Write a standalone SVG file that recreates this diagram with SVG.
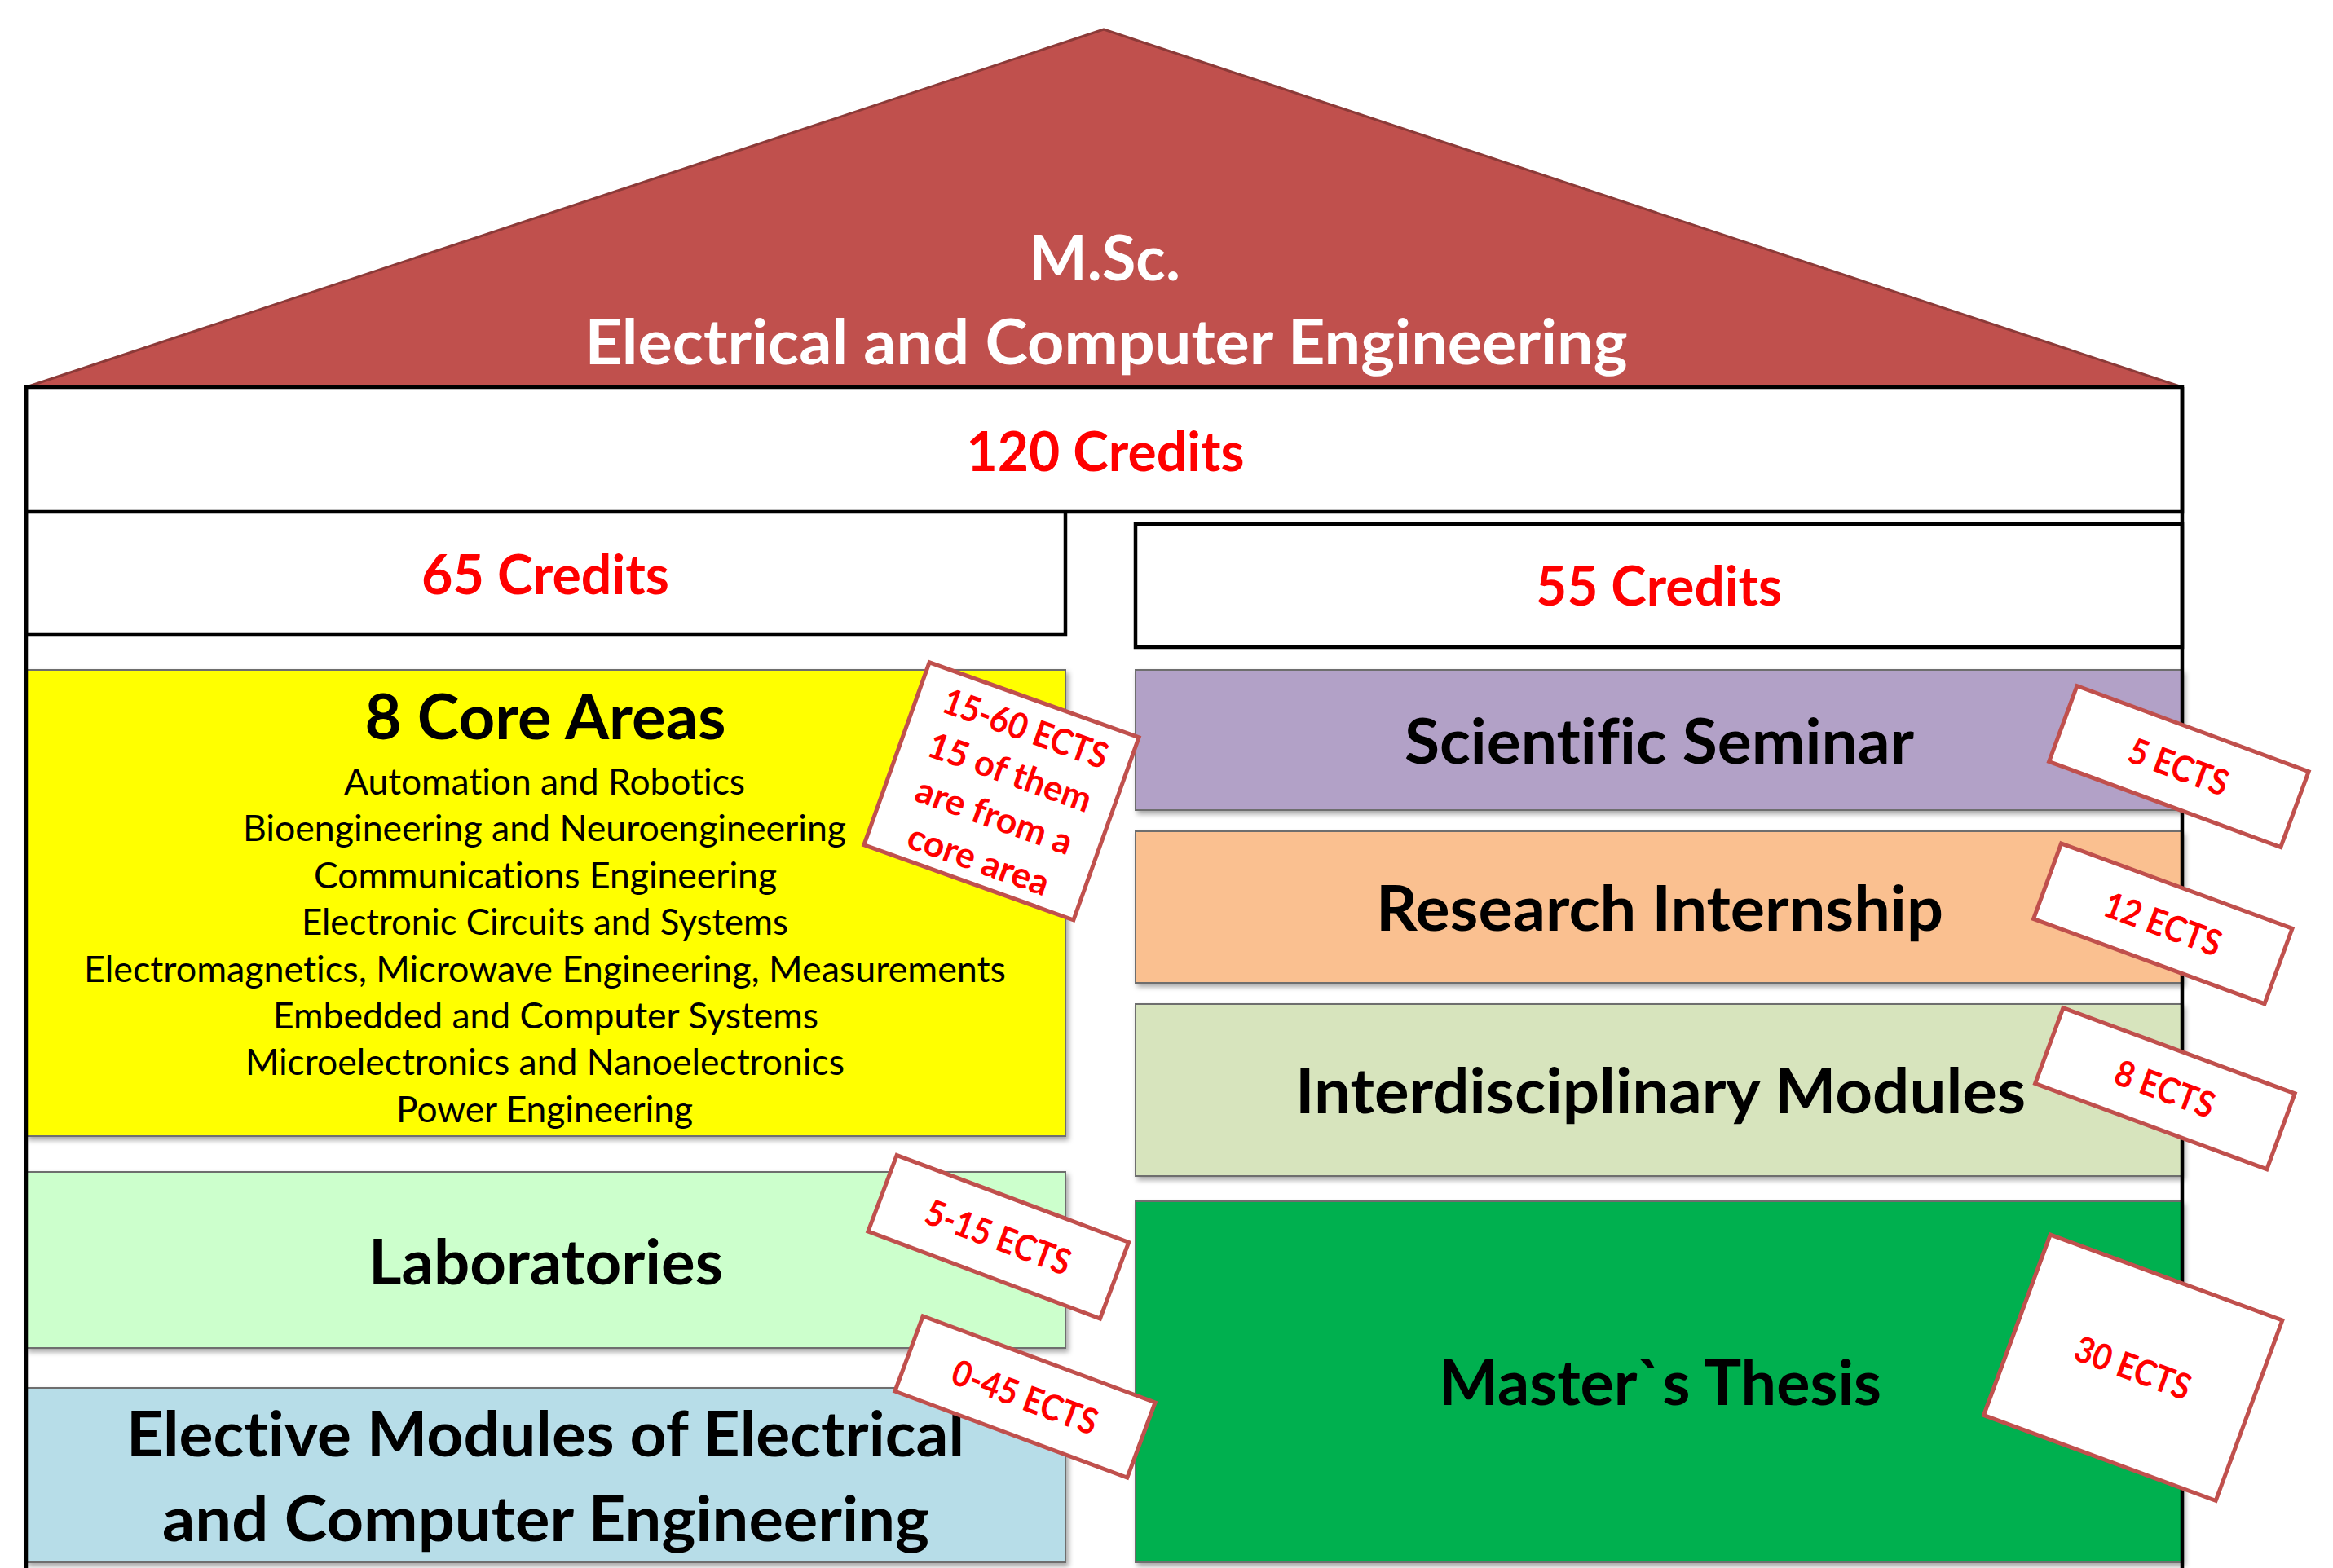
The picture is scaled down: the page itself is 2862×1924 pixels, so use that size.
<svg xmlns="http://www.w3.org/2000/svg" width="2862" height="1924" viewBox="0 0 2862 1924">
  <defs>
    <filter id="shadow" x="-5%" y="-10%" width="110%" height="125%">
      <feDropShadow dx="3" dy="4" stdDeviation="3" flood-color="#000" flood-opacity="0.35"/>
    </filter>
    <style>
      text { font-variant-ligatures: none; font-feature-settings: "liga" 0, "dlig" 0; }
      .frame { fill: #fff; stroke: #000; stroke-width: 4.5; }
      .wall { fill: none; stroke: #000; stroke-width: 4.5; }
      .box { stroke: #6e6e6e; stroke-width: 2; filter: url(#shadow); }
      .roof-txt { font-family: Lato, "Open Sans", sans-serif; font-weight: 700; font-size: 77px; fill: #fff; text-anchor: middle; }
      .credits { font-family: Lato, "Open Sans", sans-serif; font-weight: 700; font-size: 67px; fill: #ff0000; text-anchor: middle; }
      .label { font-family: Lato, "Open Sans", sans-serif; font-weight: 700; font-size: 77px; fill: #000; text-anchor: middle; }
      .area { font-family: Lato, "Open Sans", sans-serif; font-weight: 400; font-size: 44px; fill: #000; text-anchor: middle; }
      .tag rect { fill: #fff; stroke: #c0504d; stroke-width: 5; }
      .tag text { font-family: Lato, "Open Sans", sans-serif; font-weight: 700; font-size: 44px; fill: #ff0000; text-anchor: middle; }
    </style>
  </defs>

  <!-- roof -->
  <g id="roof">
    <polygon points="32,475 1354,36 2677,475" fill="#c0504d" stroke="#8c3a38" stroke-width="3" stroke-linejoin="round"/>
    <text class="roof-txt" x="1355" y="344" textLength="186" lengthAdjust="spacingAndGlyphs">M.Sc.</text>
    <text class="roof-txt" x="1357" y="447" textLength="1279" lengthAdjust="spacingAndGlyphs">Electrical and Computer Engineering</text>
  </g>

  <!-- credit bands -->
  <g id="total-credits">
    <rect class="frame" x="32" y="475" width="2645" height="153"/>
    <text class="credits" x="1356" y="578" textLength="341" lengthAdjust="spacingAndGlyphs">120 Credits</text>
  </g>
  <g id="left-credits">
    <path class="wall" d="M32,628 V779 H1307 V628"/>
    <text class="credits" x="669" y="729" textLength="304" lengthAdjust="spacingAndGlyphs">65 Credits</text>
  </g>
  <g id="right-credits">
    <rect class="frame" x="1393" y="643" width="1284" height="151"/>
    <text class="credits" x="2035" y="743" textLength="302" lengthAdjust="spacingAndGlyphs">55 Credits</text>
  </g>

  <!-- left column modules -->
  <g id="core-areas">
    <rect class="box" x="32" y="822" width="1275" height="572" fill="#ffff00"/>
    <text class="label" x="669" y="907" textLength="443" lengthAdjust="spacingAndGlyphs">8 Core Areas</text>
    <text class="area" x="668" y="975" textLength="492" lengthAdjust="spacingAndGlyphs">Automation and Robotics</text>
    <text class="area" x="668" y="1032" textLength="740" lengthAdjust="spacingAndGlyphs">Bioengineering and Neuroengineering</text>
    <text class="area" x="669" y="1090" textLength="568" lengthAdjust="spacingAndGlyphs">Communications Engineering</text>
    <text class="area" x="668.5" y="1147" textLength="597" lengthAdjust="spacingAndGlyphs">Electronic Circuits and Systems</text>
    <text class="area" x="668.5" y="1205" textLength="1131" lengthAdjust="spacingAndGlyphs">Electromagnetics, Microwave Engineering, Measurements</text>
    <text class="area" x="669.5" y="1262" textLength="669" lengthAdjust="spacingAndGlyphs">Embedded and Computer Systems</text>
    <text class="area" x="668.5" y="1319" textLength="735" lengthAdjust="spacingAndGlyphs">Microelectronics and Nanoelectronics</text>
    <text class="area" x="668" y="1377" textLength="364" lengthAdjust="spacingAndGlyphs">Power Engineering</text>
  </g>
  <g id="laboratories">
    <rect class="box" x="32" y="1438" width="1275" height="216" fill="#ccffcc"/>
    <text class="label" x="669.5" y="1576" textLength="435" lengthAdjust="spacingAndGlyphs">Laboratories</text>
  </g>
  <g id="elective-modules">
    <rect class="box" x="32" y="1703" width="1275" height="214" fill="#b7dde8"/>
    <text class="label" x="669" y="1787" textLength="1028" lengthAdjust="spacingAndGlyphs">Elective Modules of Electrical</text>
    <text class="label" x="669.5" y="1891" textLength="941" lengthAdjust="spacingAndGlyphs">and Computer Engineering</text>
  </g>

  <!-- right column modules -->
  <g id="scientific-seminar">
    <rect class="box" x="1393" y="822" width="1284" height="172" fill="#b2a1c7"/>
    <text class="label" x="2035.5" y="937" textLength="625" lengthAdjust="spacingAndGlyphs">Scientific Seminar</text>
  </g>
  <g id="research-internship">
    <rect class="box" x="1393" y="1020" width="1284" height="186" fill="#fac090"/>
    <text class="label" x="2036" y="1142" textLength="696" lengthAdjust="spacingAndGlyphs">Research Internship</text>
  </g>
  <g id="interdisciplinary-modules">
    <rect class="box" x="1393" y="1232" width="1284" height="211" fill="#d7e4bd"/>
    <text class="label" x="2037" y="1366" textLength="896" lengthAdjust="spacingAndGlyphs">Interdisciplinary Modules</text>
  </g>
  <g id="masters-thesis">
    <rect class="box" x="1393" y="1474" width="1284" height="443" fill="#00b050"/>
    <text class="label" x="2036.5" y="1724" textLength="543" lengthAdjust="spacingAndGlyphs">Master`s Thesis</text>
  </g>

  <!-- house walls -->
  <g id="walls">
    <line class="wall" x1="32" y1="475" x2="32" y2="1924"/>
    <line class="wall" x1="2677" y1="475" x2="2677" y2="1924"/>
  </g>

  <!-- ECTS tags -->
  <g id="tag-core" class="tag" transform="translate(1228.5 970.8) rotate(19.7)">
    <rect x="-136.5" y="-119" width="273" height="238"/>
    <text x="2" y="-67" textLength="212" lengthAdjust="spacingAndGlyphs">15-60 ECTS</text>
    <text x="2" y="-10" textLength="210" lengthAdjust="spacingAndGlyphs">15 of them</text>
    <text x="2" y="47" textLength="201" lengthAdjust="spacingAndGlyphs">are from a</text>
    <text x="2" y="104" textLength="181" lengthAdjust="spacingAndGlyphs">core area</text>
  </g>
  <g id="tag-seminar" class="tag" transform="translate(2672.9 940.6) rotate(20.3)">
    <rect x="-151.5" y="-49.5" width="303" height="99"/>
    <text x="0" y="16" textLength="127" lengthAdjust="spacingAndGlyphs">5 ECTS</text>
  </g>
  <g id="tag-internship" class="tag" transform="translate(2653.3 1133.4) rotate(20.2)">
    <rect x="-151" y="-49.3" width="302" height="98.5"/>
    <text x="0" y="16" textLength="150" lengthAdjust="spacingAndGlyphs">12 ECTS</text>
  </g>
  <g id="tag-interdisciplinary" class="tag" transform="translate(2655.9 1335.7) rotate(20.3)">
    <rect x="-151.5" y="-49.5" width="303" height="99"/>
    <text x="0" y="16" textLength="127" lengthAdjust="spacingAndGlyphs">8 ECTS</text>
  </g>
  <g id="tag-laboratories" class="tag" transform="translate(1224.8 1517.7) rotate(20.6)">
    <rect x="-152" y="-50" width="304" height="100"/>
    <text x="0" y="16" textLength="187" lengthAdjust="spacingAndGlyphs">5-15 ECTS</text>
  </g>
  <g id="tag-elective" class="tag" transform="translate(1257.5 1714) rotate(20.4)">
    <rect x="-152" y="-49.2" width="304" height="98.4"/>
    <text x="0" y="16" textLength="187" lengthAdjust="spacingAndGlyphs">0-45 ECTS</text>
  </g>
  <g id="tag-thesis" class="tag" transform="translate(2616.7 1678.2) rotate(20.25)">
    <rect x="-151.7" y="-118" width="303.4" height="236"/>
    <text x="0" y="16" textLength="148" lengthAdjust="spacingAndGlyphs">30 ECTS</text>
  </g>
</svg>
